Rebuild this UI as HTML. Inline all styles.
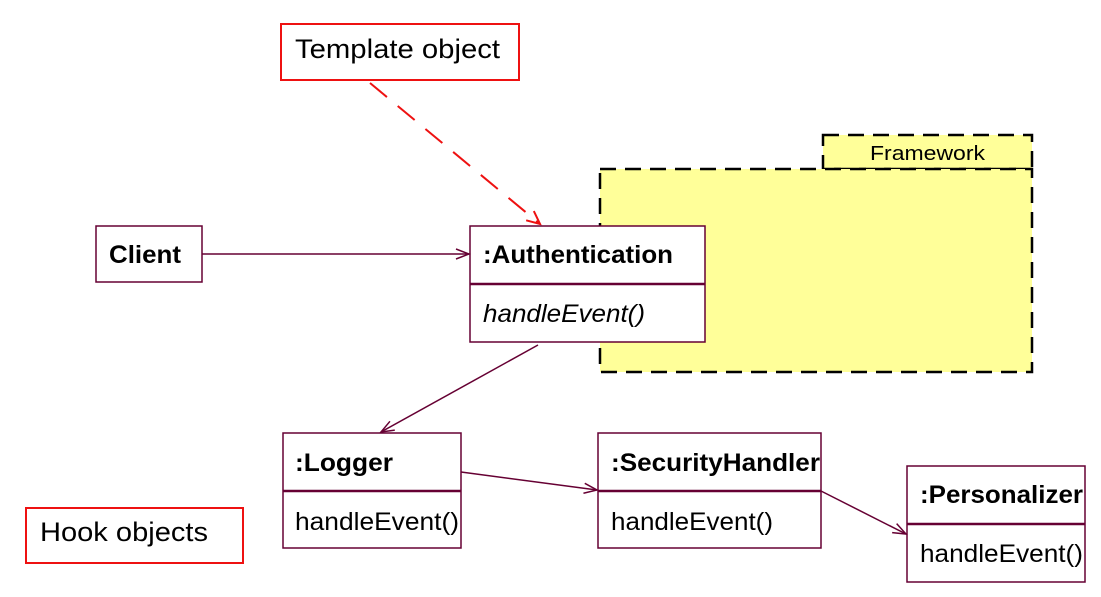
<!DOCTYPE html>
<html><head><meta charset="utf-8"><style>
html,body{margin:0;padding:0;background:#fff;}
svg{display:block;font-family:"Liberation Sans",Arial,sans-serif;}
</style></head><body>
<svg width="1101" height="597" viewBox="0 0 1101 597" xmlns="http://www.w3.org/2000/svg">
<defs>
<marker id="a" markerWidth="16" markerHeight="12" refX="14" refY="6" orient="auto" markerUnits="userSpaceOnUse"><path d="M1,1 L14,6 L1,11" fill="none" stroke="#660033" stroke-width="1.5"/></marker>
<marker id="r" markerWidth="16" markerHeight="14" refX="14" refY="7" orient="auto" markerUnits="userSpaceOnUse"><path d="M1,1 L14,7 L1,13" fill="none" stroke="#ee1111" stroke-width="2"/></marker>
</defs>
<rect x="823" y="135" width="209" height="34" fill="#ffff99" stroke="#000" stroke-width="2.5" stroke-dasharray="16,9"/>
<rect x="600" y="169" width="432" height="203" fill="#ffff99" stroke="#000" stroke-width="2.5" stroke-dasharray="16,9"/>
<text x="870" y="160" font-size="20" textLength="115" lengthAdjust="spacingAndGlyphs">Framework</text>
<rect x="281" y="24" width="238" height="56" fill="#fff" stroke="#ee1111" stroke-width="2"/>
<text x="295" y="58" font-size="27" textLength="205" lengthAdjust="spacingAndGlyphs">Template object</text>
<rect x="26" y="508" width="217" height="55" fill="#fff" stroke="#ee1111" stroke-width="2"/>
<text x="40" y="541" font-size="27" textLength="168" lengthAdjust="spacingAndGlyphs">Hook objects</text>
<line x1="370" y1="83" x2="540" y2="224" stroke="#ee1111" stroke-width="2" stroke-dasharray="22,14" marker-end="url(#r)"/>
<rect x="96" y="226" width="106" height="56" fill="#fff" stroke="#660033" stroke-width="1.5"/>
<text x="109" y="263" font-size="25" font-weight="bold" textLength="72" lengthAdjust="spacingAndGlyphs">Client</text>
<rect x="470" y="226" width="235" height="116" fill="#fff" stroke="#660033" stroke-width="1.5"/>
<line x1="470" y1="284" x2="705" y2="284" stroke="#660033" stroke-width="2.5"/>
<text x="483" y="263" font-size="25" font-weight="bold" textLength="190" lengthAdjust="spacingAndGlyphs">:Authentication</text>
<text x="483" y="322" font-size="25" font-style="italic" textLength="162" lengthAdjust="spacingAndGlyphs">handleEvent()</text>
<rect x="283" y="433" width="178" height="115" fill="#fff" stroke="#660033" stroke-width="1.5"/>
<line x1="283" y1="491" x2="461" y2="491" stroke="#660033" stroke-width="2.5"/>
<text x="295" y="471" font-size="25" font-weight="bold" textLength="98" lengthAdjust="spacingAndGlyphs">:Logger</text>
<text x="295" y="530" font-size="25" textLength="164" lengthAdjust="spacingAndGlyphs">handleEvent()</text>
<rect x="598" y="433" width="223" height="115" fill="#fff" stroke="#660033" stroke-width="1.5"/>
<line x1="598" y1="491" x2="821" y2="491" stroke="#660033" stroke-width="2.5"/>
<text x="611" y="471" font-size="25" font-weight="bold" textLength="209" lengthAdjust="spacingAndGlyphs">:SecurityHandler</text>
<text x="611" y="530" font-size="25" textLength="162" lengthAdjust="spacingAndGlyphs">handleEvent()</text>
<rect x="907" y="466" width="178" height="116" fill="#fff" stroke="#660033" stroke-width="1.5"/>
<line x1="907" y1="524" x2="1085" y2="524" stroke="#660033" stroke-width="2.5"/>
<text x="920" y="503" font-size="25" font-weight="bold" textLength="163" lengthAdjust="spacingAndGlyphs">:Personalizer</text>
<text x="920" y="562" font-size="25" textLength="163" lengthAdjust="spacingAndGlyphs">handleEvent()</text>
<line x1="202" y1="254" x2="469" y2="254" stroke="#660033" stroke-width="1.5" marker-end="url(#a)"/>
<line x1="538" y1="345" x2="381" y2="432" stroke="#660033" stroke-width="1.5" marker-end="url(#a)"/>
<line x1="461" y1="472" x2="597" y2="490" stroke="#660033" stroke-width="1.5" marker-end="url(#a)"/>
<line x1="821" y1="491" x2="906" y2="534" stroke="#660033" stroke-width="1.5" marker-end="url(#a)"/>
</svg>
</body></html>
